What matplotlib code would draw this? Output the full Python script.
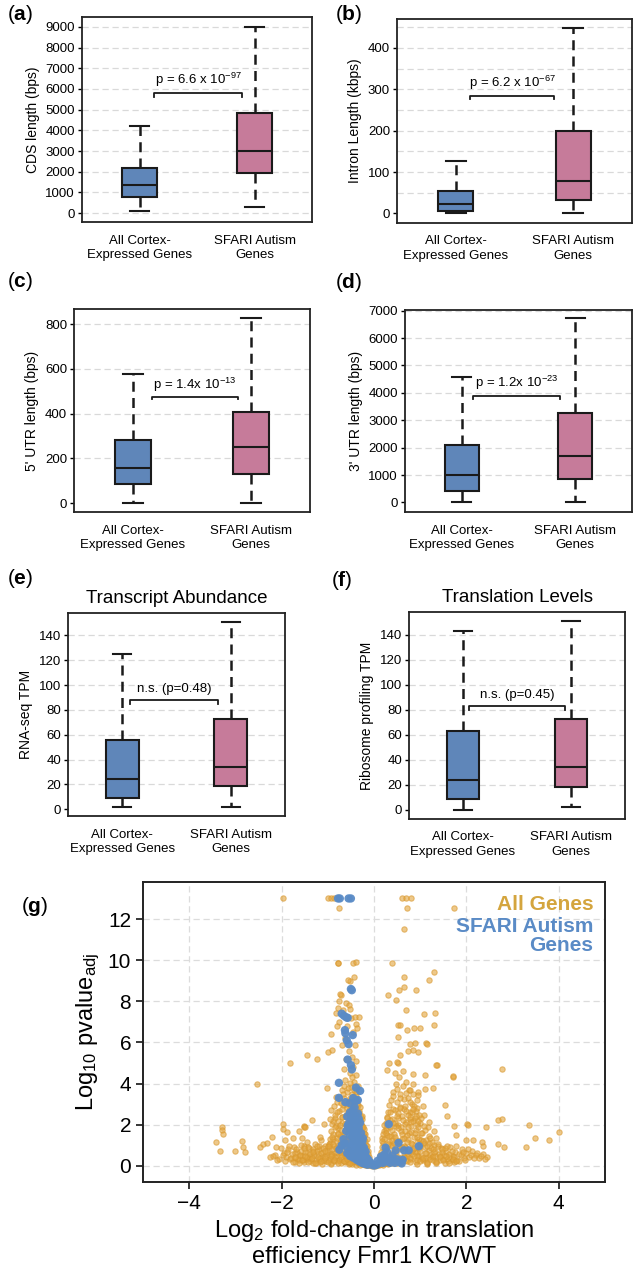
import matplotlib
matplotlib.use("Agg")
import matplotlib.pyplot as plt

plt.rcParams['font.family'] = ['Liberation Sans', 'DejaVu Sans']
plt.rcParams['mathtext.fontset'] = 'custom'
plt.rcParams['mathtext.rm'] = 'Liberation Sans'
plt.rcParams['mathtext.it'] = 'Liberation Sans:italic'
plt.rcParams['mathtext.bf'] = 'Liberation Sans:bold'

# ---- box plot summaries (whislo, q1, med, q3, whishi) ----
groups = ["All Cortex-\nExpressed Genes", "SFARI Autism\nGenes"]

cds_all = [80, 800, 1370, 2170, 4210]
cds_sfari = [290, 1960, 3010, 4820, 9000]
intron_all = [0, 6, 23, 55, 127]
intron_sfari = [0, 32, 78, 200, 448]
utr5_all = [0, 85, 159, 283, 577]
utr5_sfari = [0, 130, 249, 407, 827]
utr3_all = [0, 425, 1010, 2100, 4593]
utr3_sfari = [0, 850, 1700, 3280, 6720]
rna_all = [2.1, 9.3, 24, 56, 124.7]
rna_sfari = [2.1, 18.7, 34, 72.3, 150.7]
ribo_all = [0, 8.1, 24, 62.5, 142.7]
ribo_sfari = [1.9, 18, 34, 72.3, 150.8]

p_texts = [r"p = 6.6 x 10$^{-97}$", r"p = 6.2 x 10$^{-67}$", r"p = 1.4x 10$^{-13}$",
           r"p = 1.2x 10$^{-23}$", "n.s. (p=0.48)", "n.s. (p=0.45)"]
y_labels = ["CDS length (bps)", "Intron Length (kbps)", "5' UTR length (bps)",
            "3' UTR length (bps)", "RNA-seq TPM", "Ribosome profiling TPM"]
titles = [None, None, None, None, "Transcript Abundance", "Translation Levels"]
panel_tags = ["a", "b", "c", "d", "e", "f", "g"]

# ---- volcano plot: Log2 FC in TE vs -log10 padj ----
all_lfc_sparse = [-1.98, -0.99, -0.92, -0.86, -0.76, 0.60, 0.70, 0.81, 0.72, 1.73, 0.65,
                  -0.79, -0.45, -0.39, 0.40, 1.29, 0.65, 1.19, -0.43, -0.53, 0.55, 0.65, 0.91,
                  0.31, 0.47, -0.73, -0.76, -0.79, -0.55, -0.52, 0.69, 1.09, 1.29, 0.53, 0.87,
                  1.00, -0.41, -0.32, -0.80, -0.36, 1.31, 0.56, 0.72, 1.13, 1.36,
                  2.77, 1.71, 2.77, 2.68, 3.35, 4.01, 3.79, 3.48, 3.29, 2.82, 2.68, 2.02,
                  1.73, 2.33, 1.35, 1.71, 1.53, 1.57, 2.04, 2.43, 1.99, 1.78, 2.14, 2.36,
                  -2.54, -1.82, -1.45, -1.23, -3.29, -3.29, -3.27, -3.43, -3.34, -3.01,
                  -2.85, -2.83, -2.79, -1.98, -1.96, -1.51, -1.02, -0.99, -0.93, -0.91,
                  -0.83, -0.57, -0.77, -2.46, -2.41, -2.32, -2.21, -2.12, -1.88, -1.92,
                  -1.75, -1.63, -1.56, -1.52, -1.35, -1.49, -1.09, -0.96, -1.17, -0.82,
                  1.14, 0.78, 0.88, 0.74, 0.85, 0.96, 0.53, 0.56, 0.49, 0.33, 0.29, 0.85,
                  1.10, 0.78, 0.96, 1.10, 1.27, 0.85]
all_p_sparse = [13.0, 13.0, 13.0, 13.0, 12.55, 13.0, 13.0, 13.0, 12.55, 12.55, 11.53,
                9.88, 9.85, 9.93, 9.88, 9.44, 9.18, 9.05, 9.16, 9.0, 8.57, 8.70, 8.57,
                8.33, 8.05, 8.38, 8.02, 7.69, 7.80, 7.65, 7.60, 7.40, 6.86, 6.86, 6.70,
                6.70, 7.25, 7.25, 6.78, 6.70, 7.41, 6.84, 6.63, 5.98, 4.90,
                4.73, 4.33, 2.30, 2.25, 1.98, 1.65, 1.25, 1.38, 0.92, 0.92, 1.09, 2.06,
                1.93, 1.17, 4.89, 4.36, 2.94, 2.41, 2.00, 1.89, 1.24, 1.48, 1.24, 0.99,
                3.96, 4.98, 5.38, 5.22, 1.90, 1.73, 1.57, 1.14, 0.73, 0.73,
                1.19, 0.94, 0.70, 2.03, 1.82, 1.93, 3.79, 5.55, 6.40, 5.63,
                7.41, 9.03, 9.87, 0.91, 1.07, 1.12, 1.40, 0.91, 1.67, 1.24,
                1.37, 1.72, 1.37, 1.89, 2.21, 1.89, 2.05, 2.29, 1.40, 3.35,
                5.95, 5.95, 5.98, 5.60, 5.63, 5.55, 6.28, 5.38, 5.06, 5.00, 4.65, 4.49,
                4.41, 3.67, 3.43, 3.76, 3.80, 4.00]

all_lfc_base = [-1.95, -1.90, -1.86, -1.82, -1.78, -1.74, -1.70, -1.66, -1.62, -1.58, -1.55,
                -1.51, -1.48, -1.45, -1.41, -1.38, -1.35, -1.31, -1.28, -1.25, -1.22, -1.19,
                -1.16, -1.13, -1.10, -1.07, -1.04, -1.01, -0.98, -0.95, -0.92, -0.89, -0.86,
                -0.83, -0.80, -0.77, -0.74, -0.71, -0.68, -0.65, -0.62, -0.58, -0.55, -0.51,
                -0.47, -0.43, -0.39, -0.35, -0.30, -0.25, -0.20, -0.15, -0.10, -0.05, 0.02,
                0.06, 0.10, 0.15, 0.20, 0.25, 0.30, 0.35, 0.40, 0.45, 0.50, 0.55, 0.60, 0.65,
                0.70, 0.75, 0.80, 0.85, 0.90, 0.95, 1.00, 1.05, 1.10, 1.15, 1.20, 1.25, 1.30,
                1.35, 1.40, 1.45, 1.50, 1.55, 1.60, 1.65, 1.70, 1.75, 1.80, 1.85, 1.90, 1.95,
                2.00, 2.06, 2.12, 2.20, 2.28,
                -1.60, -1.40, -1.20, -1.00, -0.90, -0.75, -0.60, -0.50, -0.45, -0.38, -0.30,
                -0.22, -0.12, 0.12, 0.22, 0.32, 0.42, 0.52, 0.62, 0.72, 0.82, 0.92, 1.02,
                1.12, 1.22, 1.32, 1.42, 1.52, 1.62, 1.72, -1.72, -1.52, -1.32, -1.12, -0.94,
                0.94, 1.14, 1.34, 1.54, 1.74, -2.05, -2.15, -2.25, 2.35, 2.45]
all_p_base = [0.62, 0.45, 0.80, 0.35, 0.58, 0.92, 0.41, 0.66, 0.28, 0.75, 0.50,
              0.98, 0.33, 0.62, 0.85, 0.22, 0.47, 0.71, 1.05, 0.30, 0.56, 0.82,
              0.18, 0.43, 0.68, 0.95, 0.25, 0.52, 0.77, 1.12, 0.15, 0.38, 0.61,
              0.88, 0.22, 0.47, 0.70, 0.12, 0.35, 0.58, 0.19, 0.42, 0.10, 0.30,
              0.08, 0.22, 0.06, 0.15, 0.05, 0.10, 0.04, 0.07, 0.03, 0.02, 0.02,
              0.04, 0.06, 0.09, 0.05, 0.14, 0.08, 0.20, 0.12, 0.30, 0.16, 0.40, 0.22, 0.55,
              0.28, 0.68, 0.35, 0.82, 0.18, 0.50, 0.95, 0.30, 0.62, 0.20, 0.78, 0.42, 1.02,
              0.25, 0.58, 0.85, 0.36, 0.66, 0.22, 0.92, 0.48, 0.70, 0.31, 0.56, 0.80, 0.40,
              0.62, 0.45, 0.72, 0.52, 0.38,
              0.48, 0.40, 0.36, 0.30, 0.55, 0.28, 0.50, 0.55, 0.40, 0.30, 0.25,
              0.18, 0.12, 0.15, 0.25, 0.35, 0.45, 0.28, 0.38, 0.48, 0.58, 0.70, 0.45,
              0.40, 0.55, 0.48, 0.30, 0.52, 0.42, 0.28, 0.20, 0.18, 0.14, 0.10, 0.08,
              0.08, 0.10, 0.13, 0.16, 0.20, 0.35, 0.55, 0.42, 0.60, 0.45]

all_lfc_base_left = [-2.18, -2.10, -2.02, -1.97, -1.93, -1.88, -1.84, -1.80, -1.76, -1.72,
                     -1.68, -1.64, -1.60, -1.57, -1.53, -1.50, -1.46, -1.43, -1.39, -1.36,
                     -1.33, -1.29, -1.26, -1.23, -1.20, -1.17, -1.14, -1.11, -1.08, -1.05,
                     -1.02, -0.99, -0.96, -0.93, -0.90, -0.87, -0.84, -0.81, -0.78, -0.75,
                     -0.72, -0.69, -0.66, -0.63, -0.60, -0.57, -0.53, -0.49, -0.45, -0.41,
                     -0.37, -0.33, -0.28, -0.23, -0.18, -0.13, -0.08]
all_p_base_left = [0.48, 0.30, 0.85, 0.55, 0.22, 0.70, 0.95, 0.40, 0.18, 0.63,
                   0.82, 0.36, 0.55, 1.00, 0.27, 0.68, 0.45, 0.90, 0.58, 0.33,
                   0.80, 0.52, 0.14, 0.72, 0.95, 0.40, 0.62, 0.85, 0.28, 0.50,
                   0.70, 0.95, 0.35, 0.58, 0.80, 0.22, 0.45, 0.68, 0.92, 0.30,
                   0.55, 0.78, 0.25, 0.48, 0.70, 0.20, 0.38, 0.62, 0.18, 0.33,
                   0.48, 0.28, 0.22, 0.16, 0.12, 0.09, 0.05]
all_lfc_base_right = [0.08, 0.13, 0.18, 0.23, 0.28, 0.33, 0.38, 0.43, 0.48, 0.53,
                      0.58, 0.63, 0.68, 0.73, 0.78, 0.83, 0.88, 0.93, 0.98, 1.03,
                      1.08, 1.13, 1.18, 1.23, 1.28, 1.33, 1.38, 1.43, 1.48, 1.53,
                      1.58, 1.63, 1.68, 1.73, 1.78, 1.83, 1.88, 1.93, 1.98, 2.04,
                      2.10, 2.16, 2.24, 2.32, 2.40]
all_p_base_right = [0.10, 0.20, 0.30, 0.12, 0.42, 0.25, 0.55, 0.35, 0.68, 0.45,
                    0.80, 0.30, 0.92, 0.58, 0.40, 1.05, 0.70, 0.50, 0.88, 0.32,
                    1.10, 0.62, 0.45, 0.85, 0.28, 0.72, 0.95, 0.50, 0.66, 0.88,
                    0.36, 0.58, 0.75, 0.44, 0.98, 0.25, 0.52, 0.68, 0.30, 0.82,
                    0.55, 0.38, 0.65, 0.48, 0.32]

all_lfc_strip = [-1.70, -1.63, -1.56, -1.49, -1.42, -1.35, -1.28, -1.21, -1.14, -1.07,
                 -1.00, -0.93, -0.86, -0.79, -0.72, -0.65, -0.58, -0.51, -0.44, -0.37,
                 -0.30, -0.23, -0.16, 0.16, 0.23, 0.30, 0.37, 0.44, 0.51, 0.58,
                 0.65, 0.72, 0.79, 0.86, 0.93, 1.00, 1.07, 1.14, 1.21, 1.28,
                 1.35, 1.42, 1.49, 1.56, 1.63, 1.70, 1.77]
all_p_strip = [0.42, 0.15, 0.30, 0.48, 0.20, 0.38, 0.12, 0.45, 0.25, 0.40,
               0.18, 0.50, 0.28, 0.15, 0.42, 0.22, 0.32, 0.14, 0.26, 0.20,
               0.12, 0.09, 0.06, 0.08, 0.16, 0.12, 0.24, 0.20, 0.36, 0.14,
               0.44, 0.26, 0.18, 0.48, 0.30, 0.22, 0.40, 0.15, 0.35, 0.50,
               0.20, 0.42, 0.28, 0.46, 0.16, 0.34, 0.24]
all_lfc_mid = [-1.52, -1.44, -1.33, -1.24, -1.15, -1.06, -0.97, -0.88, -0.79, -0.70,
               -0.61, -0.34, -0.26, 0.27, 0.36, 0.46, 0.55, 0.64, 0.74, 0.83,
               0.92, 1.01, 1.11, 1.20, 1.29, 1.38, 1.47, 1.58]
all_p_mid = [0.88, 1.15, 0.66, 0.98, 1.25, 0.74, 1.05, 1.30, 0.84, 1.18,
             0.92, 0.88, 0.70, 0.80, 1.00, 0.72, 1.22, 0.96, 1.30, 0.78,
             1.15, 1.28, 0.90, 1.10, 0.70, 1.05, 0.82, 0.95]

all_lfc_arms = [-0.95, -0.88, -0.82, -0.78, -0.74, -0.70, -0.66, -0.62, -0.60, -0.57, -0.54,
                -0.52, -0.49, -0.46, -0.44, -0.41, -0.39, -0.37, -0.34, -0.31, -0.29, -0.26,
                -0.24, -0.21, -0.18, -0.15, -0.12, -0.84, -0.76, -0.68, -0.64, -0.58, -0.55,
                -0.50, -0.47, -0.43, -0.40, -0.36, -0.33, -0.28, -0.90, -0.86, -0.72, -0.56,
                -0.42, -0.32, -0.80, -0.70, -0.62, -0.52, -0.45, -0.60, -0.55, -0.66, -0.48,
                -0.40, -0.35, -0.70, -0.62, -0.42, -0.38, -0.58, -0.45, -0.75, -0.67, -0.50,
                -0.72, -0.60, -0.40,
                0.15, 0.20, 0.25, 0.28, 0.32, 0.35, 0.38, 0.40, 0.43, 0.46, 0.48, 0.50, 0.53,
                0.56, 0.58, 0.60, 0.63, 0.66, 0.68, 0.70, 0.73, 0.76, 0.78, 0.80, 0.83, 0.86,
                0.88, 0.91, 0.94, 0.97, 1.00, 1.04, 1.08, 1.12, 1.16, 1.20, 0.30, 0.36, 0.42,
                0.48, 0.55, 0.62, 0.70, 0.45, 0.52, 0.75, 0.85, 0.92, 0.27, 0.22, 0.18, 0.40,
                0.60, 0.80, 1.00, 1.25, 1.30, 1.35, 1.05, 0.95]
all_p_arms = [1.30, 1.55, 1.20, 1.85, 1.45, 2.10, 1.65, 2.45, 1.25, 1.95, 2.70,
              1.40, 2.25, 3.05, 1.75, 2.55, 3.40, 1.15, 2.00, 2.85, 1.50, 2.30,
              1.05, 1.80, 0.85, 1.30, 0.60, 2.35, 2.65, 2.95, 3.30, 3.60, 3.15,
              3.85, 3.50, 4.10, 3.75, 3.20, 2.55, 2.05, 2.05, 0.95, 0.95, 0.80,
              0.70, 0.55, 3.10, 3.70, 4.20, 4.50, 4.80, 5.20, 5.60, 4.70, 5.30,
              4.40, 3.90, 5.90, 6.20, 5.90, 5.10, 6.80, 6.50, 7.00, 7.60, 7.20,
              8.30, 7.90, 6.90,
              0.70, 1.10, 0.85, 1.50, 1.20, 1.90, 0.95, 2.30, 1.55, 2.70, 1.25, 3.10, 2.00,
              3.50, 1.70, 2.45, 3.90, 1.35, 2.90, 2.15, 3.30, 1.60, 2.60, 1.95, 3.00, 1.40,
              2.35, 1.75, 2.80, 1.30, 2.10, 1.60, 2.50, 1.25, 1.90, 1.45, 2.60, 3.20, 3.60,
              4.00, 4.30, 4.60, 4.10, 4.50, 5.00, 3.70, 3.50, 3.20, 2.10, 1.70, 1.35, 0.65,
              0.90, 1.10, 1.05, 1.15, 1.70, 1.35, 2.90, 3.60]

all_lfc_left_arm = [-0.98, -0.93, -0.89, -0.85, -0.81, -0.77, -0.73, -0.69, -0.65, -0.61,
                    -0.59, -0.56, -0.53, -0.51, -0.48, -0.45, -0.43, -0.40, -0.38, -0.35,
                    -0.32, -0.30, -0.27, -0.25, -0.22, -0.20, -0.17, -0.14, -0.11, -0.92,
                    -0.87, -0.79, -0.75, -0.71, -0.67, -0.63, -0.58, -0.54, -0.50, -0.46,
                    -0.42, -0.38, -0.34, -0.30, -0.26, -0.22, -0.19, -0.16, -0.83, -0.69,
                    -0.61, -0.57, -0.49, -0.44, -0.36, -0.31, -0.71, -0.65, -0.53, -0.47]
all_p_left_arm = [0.95, 1.70, 1.05, 2.50, 1.35, 2.20, 1.10, 2.75, 1.50, 3.00,
                  2.00, 1.30, 2.40, 3.30, 1.60, 2.90, 1.20, 2.20, 3.60, 1.45,
                  2.65, 1.10, 1.85, 2.45, 1.25, 1.55, 1.00, 0.75, 0.45, 2.70,
                  2.90, 1.60, 3.30, 1.75, 3.50, 2.05, 2.80, 1.85, 2.15, 3.35,
                  2.80, 2.60, 2.95, 1.75, 1.95, 1.60, 1.20, 0.95, 1.95, 2.40,
                  1.80, 3.80, 3.20, 3.70, 3.00, 2.25, 3.05, 3.90, 4.05, 4.30]
all_lfc_right_arm = [0.12, 0.17, 0.21, 0.24, 0.27, 0.31, 0.34, 0.37, 0.41, 0.44,
                     0.47, 0.51, 0.54, 0.57, 0.61, 0.64, 0.67, 0.71, 0.74, 0.77,
                     0.81, 0.84, 0.87, 0.90, 0.93, 0.96, 0.99, 1.02, 1.06, 1.10,
                     1.14, 1.18, 1.22, 1.27, 0.19, 0.26, 0.33, 0.39, 0.45, 0.52,
                     0.59, 0.65, 0.72, 0.79, 0.86, 0.93, 1.01, 1.09, 0.29, 0.42,
                     0.49, 0.57, 0.69, 0.82, 0.98]
all_p_right_arm = [0.55, 0.90, 1.30, 0.75, 1.85, 1.05, 2.25, 1.45, 2.75, 1.10,
                   1.95, 2.55, 0.95, 2.85, 1.55, 3.25, 2.05, 1.15, 2.50, 3.10,
                   1.65, 2.20, 0.85, 2.65, 1.40, 1.90, 0.75, 2.35, 1.20, 1.75,
                   0.95, 2.15, 1.35, 0.80, 1.55, 1.75, 2.95, 1.25, 2.10, 2.35,
                   1.90, 2.75, 1.50, 2.30, 2.90, 2.05, 1.60, 1.95, 2.40, 3.40,
                   3.75, 3.30, 3.55, 2.60, 2.50]
all_lfc_arm_fill = [-0.91, -0.84, -0.77, -0.70, -0.63, -0.56, -0.49, -0.42, -0.35, -0.28,
                    -0.21, -0.88, -0.80, -0.73, -0.66, -0.59, -0.52, -0.45, -0.38, -0.31,
                    -0.24, 0.18, 0.25, 0.32, 0.39, 0.46, 0.53, 0.60, 0.67, 0.74,
                    0.81, 0.88, 0.95, 0.21, 0.28, 0.35, 0.42, 0.49, 0.56, 0.63,
                    0.70, 0.77, 0.84, 0.91]
all_p_arm_fill = [1.40, 1.90, 1.55, 2.40, 1.70, 2.20, 1.85, 2.70, 1.95, 2.40,
                  1.45, 2.20, 2.60, 2.00, 1.35, 2.55, 2.95, 1.50, 2.75, 1.65,
                  1.90, 1.20, 1.60, 1.45, 1.75, 1.40, 1.85, 1.30, 1.70, 1.90,
                  2.15, 1.60, 2.20, 2.00, 2.35, 2.60, 2.10, 2.45, 2.80, 2.25,
                  2.65, 2.40, 2.75, 2.45]

sfari_lfc = [-0.78, -0.74, -0.55, -0.50, -0.48, -0.50, -0.70, -0.65, -0.60, -0.57,
             -0.63, -0.62, -0.59, -0.46, -0.55, -0.57, -0.50, -0.48, -0.76, -0.76,
             -0.58, -0.52, -0.46, -0.40, -0.35, -0.30, -0.55, -0.48, -0.42, -0.36,
             -0.28, -0.24, -0.60, -0.53, -0.47, -0.41, -0.34, -0.28, -0.22, -0.18,
             -0.55, -0.49, -0.43, -0.37, -0.31, -0.25, -0.20, -0.15, -0.10, -0.05,
             0.00, -0.64, -0.75, -0.58, -0.52, -0.45, -0.38, -0.32, -0.26, -0.20,
             -0.14, -0.45, -0.38, -0.33, -0.50, -0.44, -0.39, -0.30, -0.52, -0.40,
             -0.35, -0.45, -0.30, -0.39, -0.62,
             0.05, 0.10, 0.15, 0.20, 0.25, 0.30, 0.35, 0.40, 0.45, 0.50, 0.55, 0.60,
             0.15, 0.22, 0.28, 0.25, 0.32, 0.53, 0.47, 0.65, 0.75, 0.97, 0.40,
             -0.57, -0.51, -0.47, -0.43, -0.40, -0.37, -0.34, -0.31, -0.27, -0.23,
             -0.19, -0.16, -0.12, -0.08, -0.54, -0.49, -0.44, -0.41, -0.35, -0.29,
             -0.25, -0.21, -0.46, -0.42, -0.33, -0.66, -0.70, -0.60, 0.08, 0.18,
             0.35, 0.62]
sfari_p = [13.0, 13.0, 13.0, 13.0, 8.54, 8.60, 7.40, 7.30, 7.22, 7.20,
           6.60, 6.45, 6.11, 6.36, 5.92, 5.17, 4.90, 4.69, 4.04, 3.31,
           2.40, 2.60, 2.50, 2.30, 2.55, 2.10, 2.05, 1.90, 1.80, 1.70,
           1.60, 1.35, 1.70, 1.50, 1.40, 1.25, 1.15, 1.00, 0.90, 0.70,
           1.10, 0.95, 0.80, 0.65, 0.55, 0.45, 0.35, 0.25, 0.15, 0.06,
           0.02, 1.09, 0.79, 0.62, 0.48, 0.40, 0.30, 0.22, 0.15, 0.10,
           0.06, 2.05, 2.00, 1.85, 2.30, 1.60, 1.45, 1.30, 3.05, 3.15,
           3.20, 3.30, 3.65, 3.81, 3.10,
           0.05, 0.12, 0.20, 0.15, 0.30, 0.22, 0.38, 0.25, 0.15, 0.32, 0.20, 0.12,
           0.45, 0.55, 0.70, 0.89, 2.03, 1.12, 0.76, 0.76, 0.76, 0.96, 0.50,
           1.95, 1.75, 2.15, 1.50, 2.45, 1.05, 1.40, 0.75, 0.85, 0.60,
           0.50, 0.40, 0.30, 0.18, 0.70, 0.55, 1.15, 0.95, 0.85, 0.40,
           1.20, 0.60, 2.70, 2.85, 2.30, 1.30, 1.00, 0.95, 0.25, 0.35,
           0.15, 0.30]

BLUE_BOX = "#5F86B9"
PINK_BOX = "#C67B9A"
ORANGE = "#E2A43C"
BLUE_PT = "#5A8BC6"

fig = plt.figure(figsize=(6.43, 12.75), dpi=100)
W, H = 643.0, 1275.0


def px_axes(left, right, top, bottom):
    return fig.add_axes([left / W, 1 - bottom / H, (right - left) / W, (bottom - top) / H])


box_axes = [px_axes(82, 312, 17, 222), px_axes(397, 632, 19, 223),
            px_axes(74, 310, 309, 512), px_axes(405, 632, 310, 512),
            px_axes(68, 285, 613, 816), px_axes(409, 625, 612, 819)]

box_data = [(cds_all, cds_sfari), (intron_all, intron_sfari), (utr5_all, utr5_sfari),
            (utr3_all, utr3_sfari), (rna_all, rna_sfari), (ribo_all, ribo_sfari)]
ylims = [(-430, 9480), (-23, 470), (-39, 867), (-350, 7025), (-5.5, 158), (-7.6, 158)]
yticks = [range(0, 9001, 1000), range(0, 401, 100), range(0, 801, 200),
          range(0, 7001, 1000), range(0, 141, 20), range(0, 141, 20)]
grid_steps = [1000, 50, 200, 1000, 20, 20]
brackets = [(1.13, 1.89, 5790, 160), (1.12, 1.84, 284, 8), (1.16, 1.89, 474, 10),
            (1.10, 1.87, 3890, 100), (1.07, 1.88, 88, 3), (1.06, 1.94, 83, 3)]
tag_pos = [(20, 15), (349, 15), (20, 281), (349, 282), (20, 579), (342, 581)]

for i, ax in enumerate(box_axes):
    lo, hi = ylims[i]
    step = grid_steps[i]
    g = 0
    while g <= hi:
        if g > 0 or i in (0,):
            ax.axhline(g, color="#d9d9d9", lw=0.9, ls=(0, (5, 3)), zorder=0)
        g += step
    stats = []
    for vals in box_data[i]:
        stats.append(dict(whislo=vals[0], q1=vals[1], med=vals[2], q3=vals[3],
                          whishi=vals[4], fliers=[]))
    bp = ax.bxp(stats, positions=[1, 2], widths=0.3, patch_artist=True, showfliers=False,
                boxprops=dict(edgecolor="#1a1a1a", linewidth=1.5),
                medianprops=dict(color="#1a1a1a", linewidth=1.5),
                whiskerprops=dict(color="#1a1a1a", linewidth=1.8, linestyle=(0, (4, 2.5))),
                capprops=dict(color="#1a1a1a", linewidth=1.5), capwidths=0.17)
    for patch, col in zip(bp["boxes"], [BLUE_BOX, PINK_BOX]):
        patch.set_facecolor(col)
    ax.set_xlim(0.5, 2.5)
    ax.set_ylim(lo, hi)
    ax.set_yticks(list(yticks[i]))
    ax.set_xticks([1, 2])
    ax.set_xticklabels(groups, fontsize=9.5, linespacing=1.3)
    ax.tick_params(axis="x", length=0, pad=9)
    ax.tick_params(axis="y", labelsize=9.5, length=3, width=1, pad=2)
    ax.set_ylabel(y_labels[i], fontsize=10)
    for s in ax.spines.values():
        s.set_linewidth(1.3)
        s.set_color("#222222")
    x0, x1, yb, dy = brackets[i]
    ax.plot([x0, x0, x1, x1], [yb - dy, yb, yb, yb - dy], color="#1a1a1a", lw=1.3,
            solid_joinstyle="round")
    ax.text((x0 + x1) / 2, yb + dy * 1.3, p_texts[i], ha="center", va="bottom", fontsize=9.5)
    if titles[i]:
        ax.set_title(titles[i], fontsize=13.5, pad=7)
    tx, ty = tag_pos[i]
    fig.text(tx / W, 1 - ty / H, "(" + r"$\mathbf{" + panel_tags[i] + "}$" + ")",
             fontsize=15, ha="center", va="center")

# ---- volcano plot ----
axg = px_axes(143, 605, 882, 1182)
axg.grid(True, color="#dcdcdc", lw=0.9, ls=(0, (5, 3)), zorder=0)
axg.set_axisbelow(True)
orange_sets = [(all_lfc_base, all_p_base), (all_lfc_base_left, all_p_base_left),
               (all_lfc_base_right, all_p_base_right), (all_lfc_strip, all_p_strip),
               (all_lfc_mid, all_p_mid), (all_lfc_arms, all_p_arms),
               (all_lfc_left_arm, all_p_left_arm), (all_lfc_right_arm, all_p_right_arm),
               (all_lfc_arm_fill, all_p_arm_fill), (all_lfc_sparse, all_p_sparse)]
for xs, ys in orange_sets:
    axg.scatter(xs, ys, s=15, facecolor=ORANGE, edgecolor="#D9982E", linewidths=0.8,
                alpha=0.6, zorder=2)
axg.scatter(sfari_lfc, sfari_p, s=36, color=BLUE_PT, edgecolor="none", alpha=0.95, zorder=3)
axg.set_xlim(-5, 5)
axg.set_ylim(-0.78, 13.8)
axg.set_xticks([-4, -2, 0, 2, 4])
axg.set_xticklabels(["\u22124", "\u22122", "0", "2", "4"])
axg.set_yticks([0, 2, 4, 6, 8, 10, 12])
axg.tick_params(labelsize=15, length=5, width=1.1)
for s in axg.spines.values():
    s.set_linewidth(1.4)
    s.set_color("#222222")
axg.set_ylabel(r"Log$_{10}$ pvalue$_{\mathregular{adj}}$", fontsize=17, labelpad=4)
axg.set_xlabel("Log$_{2}$ fold-change in translation\nefficiency Fmr1 KO/WT", fontsize=17,
               linespacing=1.1)
axg.text(0.975, 0.925, "All Genes", transform=axg.transAxes, ha="right", va="center",
         fontsize=15, fontweight="bold", color="#D4A53E")
axg.text(0.975, 0.82, "SFARI Autism\nGenes", transform=axg.transAxes, ha="right",
         va="center", fontsize=15, fontweight="bold", color=BLUE_PT, linespacing=0.95)
fig.text(35 / W, 1 - 907 / H, r"($\mathbf{g}$)", fontsize=15, ha="center", va="center")

fig.savefig("out.png", dpi=100)
